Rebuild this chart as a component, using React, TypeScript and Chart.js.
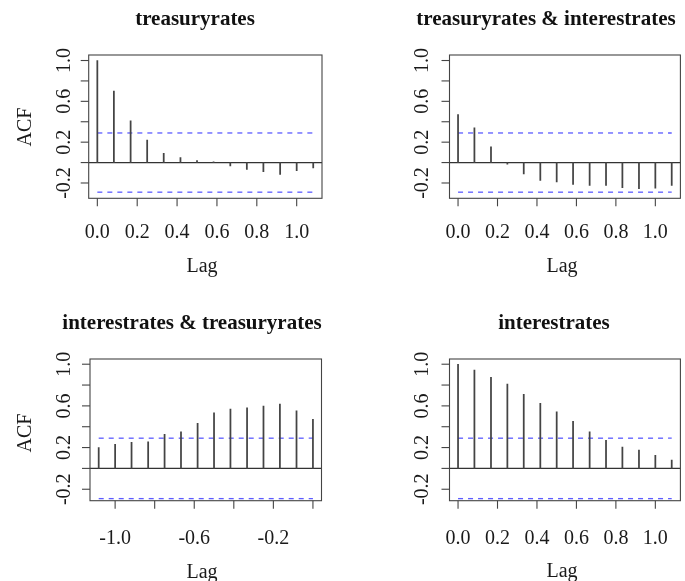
import React, { useEffect, useRef } from "react";
import { Chart, registerables } from "chart.js";

Chart.register(...registerables);

// ---------- data ----------
const lagsPos = [0, 0.083, 0.167, 0.25, 0.333, 0.417, 0.5, 0.583, 0.667, 0.75, 0.833, 0.917, 1.0, 1.083];
const lagsNeg = [-1.083, -1.0, -0.917, -0.833, -0.75, -0.667, -0.583, -0.5, -0.417, -0.333, -0.25, -0.167, -0.083, 0];

const acfTreasury = [1.0, 0.70, 0.41, 0.22, 0.09, 0.05, 0.02, 0.007, -0.033, -0.066, -0.089, -0.115, -0.08, -0.052];
const ccfTreasuryInterest = [0.47, 0.34, 0.155, -0.016, -0.11, -0.175, -0.19, -0.215, -0.225, -0.225, -0.245, -0.255, -0.25, -0.225];
const ccfInterestTreasury = [0.20, 0.23, 0.25, 0.256, 0.326, 0.352, 0.432, 0.534, 0.569, 0.582, 0.598, 0.617, 0.553, 0.47];
const acfInterest = [1.0, 0.944, 0.873, 0.809, 0.71, 0.624, 0.544, 0.451, 0.352, 0.269, 0.205, 0.176, 0.125, 0.08];

const ciBound = 0.29;

const panelTitles = [
  "treasuryrates",
  "treasuryrates & interestrates",
  "interestrates & treasuryrates",
  "interestrates",
];

const yTickValues = [-0.2, 0, 0.2, 0.4, 0.6, 0.8, 1.0];
const yTickLabels = ["-0.2", "", "0.2", "", "0.6", "", "1.0"];
const xTickValuesPos = [0, 0.2, 0.4, 0.6, 0.8, 1.0];
const xTickLabelsPos = ["0.0", "0.2", "0.4", "0.6", "0.8", "1.0"];
const xTickValuesNeg = [-1.0, -0.8, -0.6, -0.4, -0.2, 0.0];
const xTickLabelsNeg = ["-1.0", "", "-0.6", "", "-0.2", ""];

const xAxisTitle = "Lag";
const yAxisTitle = "ACF";

// ---------- layout ----------
const W = 685;
const H = 581;
const FONT = '"Liberation Serif", "Times New Roman", serif';

const panels = [
  {
    title: panelTitles[0], lags: lagsPos, values: acfTreasury,
    xTicks: xTickValuesPos, xLabels: xTickLabelsPos,
    area: { l: 88.7, t: 55, r: 322, b: 198.3 },
    xMin: -0.0433, xMax: 1.127, yMin: -0.35, yMax: 1.054,
    titleX: 195, titleY: 25, tickY: 237.5, lagX: 202, lagY: 272, ylabX: 65,
    acf: { x: 26, y: 127 },
  },
  {
    title: panelTitles[1], lags: lagsPos, values: ccfTreasuryInterest,
    xTicks: xTickValuesPos, xLabels: xTickLabelsPos,
    area: { l: 449.5, t: 55, r: 680.4, b: 198.3 },
    xMin: -0.0433, xMax: 1.127, yMin: -0.35, yMax: 1.054,
    titleX: 546, titleY: 25, tickY: 238, lagX: 562, lagY: 272, ylabX: 423,
    acf: null,
  },
  {
    title: panelTitles[2], lags: lagsNeg, values: ccfInterestTreasury,
    xTicks: xTickValuesNeg, xLabels: xTickLabelsNeg,
    area: { l: 90, t: 359, r: 321.5, b: 500.7 },
    xMin: -1.127, xMax: 0.0433, yMin: -0.31, yMax: 1.05,
    titleX: 192, titleY: 329, tickY: 543.5, lagX: 202, lagY: 577.5, ylabX: 65,
    acf: { x: 26, y: 433 },
  },
  {
    title: panelTitles[3], lags: lagsPos, values: acfInterest,
    xTicks: xTickValuesPos, xLabels: xTickLabelsPos,
    area: { l: 449.5, t: 359, r: 680.4, b: 500.7 },
    xMin: -0.0433, xMax: 1.127, yMin: -0.31, yMax: 1.05,
    titleX: 554, titleY: 329, tickY: 543.5, lagX: 562, lagY: 577, ylabX: 423,
    acf: null,
  },
];

type PanelSpec = (typeof panels)[number];

function makeDecor(spec: PanelSpec) {
  return {
    id: "rDecor",
    beforeDatasetsDraw(chart: any) {
      const ctx = chart.ctx;
      const ys = chart.scales.y;
      const ca = chart.chartArea;
      ctx.save();
      ctx.strokeStyle = "#333";
      ctx.lineWidth = 1.1;
      const y0 = ys.getPixelForValue(0);
      ctx.beginPath();
      ctx.moveTo(ca.left, y0);
      ctx.lineTo(ca.right, y0);
      ctx.stroke();
      ctx.restore();
    },
    afterDraw(chart: any) {
      const ctx = chart.ctx;
      const xs = chart.scales.x;
      const ys = chart.scales.y;
      const ca = chart.chartArea;
      ctx.save();
      // box
      ctx.strokeStyle = "#444";
      ctx.lineWidth = 1.1;
      ctx.strokeRect(ca.left, ca.top, ca.right - ca.left, ca.bottom - ca.top);
      // x ticks
      ctx.fillStyle = "#1a1a1a";
      ctx.font = `20px ${FONT}`;
      ctx.textAlign = "center";
      ctx.textBaseline = "alphabetic";
      spec.xTicks.forEach((v, i) => {
        const px = xs.getPixelForValue(v);
        ctx.beginPath();
        ctx.moveTo(px, ca.bottom);
        ctx.lineTo(px, ca.bottom + 8);
        ctx.stroke();
        if (spec.xLabels[i]) ctx.fillText(spec.xLabels[i], px, spec.tickY);
      });
      // y ticks
      yTickValues.forEach((v, i) => {
        const py = ys.getPixelForValue(v);
        ctx.beginPath();
        ctx.moveTo(ca.left, py);
        ctx.lineTo(ca.left - 8, py);
        ctx.stroke();
        if (yTickLabels[i]) {
          ctx.save();
          ctx.translate(spec.ylabX, py);
          ctx.rotate(-Math.PI / 2);
          ctx.textBaseline = "middle";
          ctx.fillText(yTickLabels[i], 0, 0);
          ctx.restore();
        }
      });
      // axis titles
      ctx.fillText(xAxisTitle, spec.lagX, spec.lagY);
      if (spec.acf) {
        ctx.save();
        ctx.translate(spec.acf.x, spec.acf.y);
        ctx.rotate(-Math.PI / 2);
        ctx.textBaseline = "middle";
        ctx.fillText(yAxisTitle, 0, 0);
        ctx.restore();
      }
      // main title
      ctx.font = `bold 21px ${FONT}`;
      ctx.fillStyle = "#111";
      ctx.fillText(spec.title, spec.titleX, spec.titleY);
      ctx.restore();
    },
  };
}

function Panel({ spec }: { spec: PanelSpec }) {
  const ref = useRef<HTMLCanvasElement | null>(null);
  useEffect(() => {
    if (!ref.current) return;
    const first = spec.lags[0];
    const last = spec.lags[spec.lags.length - 1];
    const chart = new Chart(ref.current, {
      type: "bar",
      data: {
        datasets: [
          {
            type: "bar",
            data: spec.lags.map((x, i) => ({ x, y: spec.values[i] })),
            backgroundColor: "#444",
            borderWidth: 0,
            barThickness: 1.1,
          } as any,
          {
            type: "line",
            data: [{ x: first, y: ciBound }, { x: last, y: ciBound }],
            borderColor: "#5c5cff",
            borderWidth: 1.3,
            borderDash: [5, 5],
            pointRadius: 0,
            fill: false,
          } as any,
          {
            type: "line",
            data: [{ x: first, y: -ciBound }, { x: last, y: -ciBound }],
            borderColor: "#5c5cff",
            borderWidth: 1.3,
            borderDash: [5, 5],
            pointRadius: 0,
            fill: false,
          } as any,
        ],
      },
      options: {
        animation: false,
        responsive: false,
        devicePixelRatio: 1,
        events: [],
        layout: {
          padding: {
            left: spec.area.l,
            top: spec.area.t,
            right: W - spec.area.r,
            bottom: H - spec.area.b,
          },
        },
        plugins: {
          legend: { display: false },
          tooltip: { enabled: false },
          title: { display: false },
        },
        scales: {
          x: {
            type: "linear",
            display: false,
            offset: false,
            min: spec.xMin,
            max: spec.xMax,
          },
          y: {
            type: "linear",
            display: false,
            min: spec.yMin,
            max: spec.yMax,
          },
        },
      },
      plugins: [makeDecor(spec)],
    } as any);
    return () => chart.destroy();
  }, [spec]);
  return (
    <canvas
      ref={ref}
      width={W}
      height={H}
      style={{ position: "absolute", left: 0, top: 0, width: W, height: H }}
    />
  );
}

export default function App() {
  return (
    <div
      style={{
        position: "absolute",
        left: 0,
        top: 0,
        width: W,
        height: H,
        background: "#fff",
        overflow: "hidden",
      }}
    >
      {panels.map((p, i) => (
        <Panel key={i} spec={p} />
      ))}
    </div>
  );
}
